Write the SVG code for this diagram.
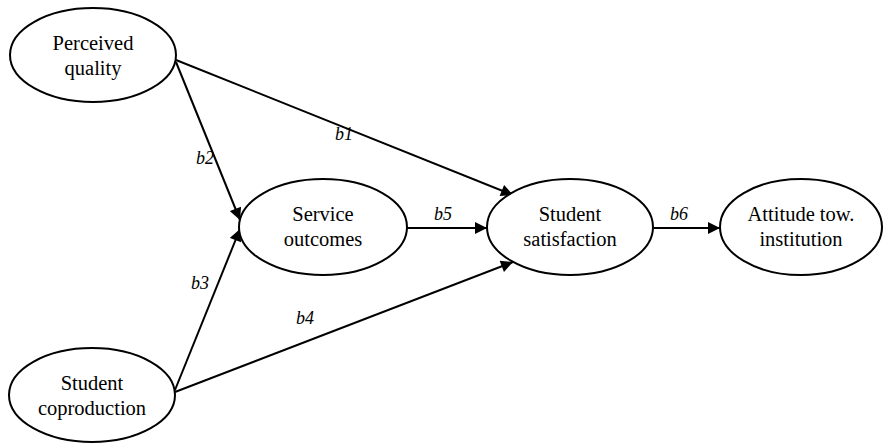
<svg xmlns="http://www.w3.org/2000/svg" width="883" height="443" viewBox="0 0 883 443">
<style>
.n{fill:#fff;stroke:#000;stroke-width:2}
.t{font-size:20.5px;text-anchor:middle;fill:#000}
.l{font-size:18px;font-style:italic;text-anchor:middle;fill:#000}
.c{stroke:#000;stroke-width:2;fill:none;marker-end:url(#a)}
</style>
<defs>
<marker id="a" viewBox="0 0 10 10" refX="10" refY="5" markerWidth="7" markerHeight="6" orient="auto" markerUnits="strokeWidth">
<path d="M0,0L10,5L0,10z" fill="#000"/>
</marker>
</defs>
<g font-family="Liberation Serif, Times New Roman, serif">
<g id="connectors">
<line class="c" x1="176" y1="60" x2="513" y2="195"/>
<line class="c" x1="176" y1="62" x2="240" y2="220"/>
<line class="c" x1="175" y1="390" x2="240" y2="229"/>
<line class="c" x1="175" y1="392" x2="513" y2="262"/>
<line class="c" x1="407" y1="228" x2="487" y2="228"/>
<line class="c" x1="654" y1="228" x2="720" y2="228"/>
<text class="l" x="344" y="140">b1</text>
<text class="l" x="205" y="164">b2</text>
<text class="l" x="200" y="289">b3</text>
<text class="l" x="305" y="324">b4</text>
<text class="l" x="443" y="220">b5</text>
<text class="l" x="679" y="220">b6</text>
</g>
<g id="perceived"><ellipse class="n" cx="93" cy="55" rx="83" ry="47"/><text class="t" x="93" y="50">Perceived</text><text class="t" x="93" y="75">quality</text></g>
<g id="service"><ellipse class="n" cx="323" cy="227" rx="84" ry="48"/><text class="t" x="323" y="221">Service</text><text class="t" x="323" y="246">outcomes</text></g>
<g id="satisfaction"><ellipse class="n" cx="570" cy="227" rx="83" ry="48"/><text class="t" x="570" y="221">Student</text><text class="t" x="570" y="246">satisfaction</text></g>
<g id="attitude"><ellipse class="n" cx="801" cy="227" rx="81" ry="48"/><text class="t" x="801" y="221">Attitude tow.</text><text class="t" x="801" y="246">institution</text></g>
<g id="coproduction"><ellipse class="n" cx="92" cy="395" rx="83" ry="47"/><text class="t" x="92" y="390">Student</text><text class="t" x="92" y="415">coproduction</text></g>
</g>
</svg>
